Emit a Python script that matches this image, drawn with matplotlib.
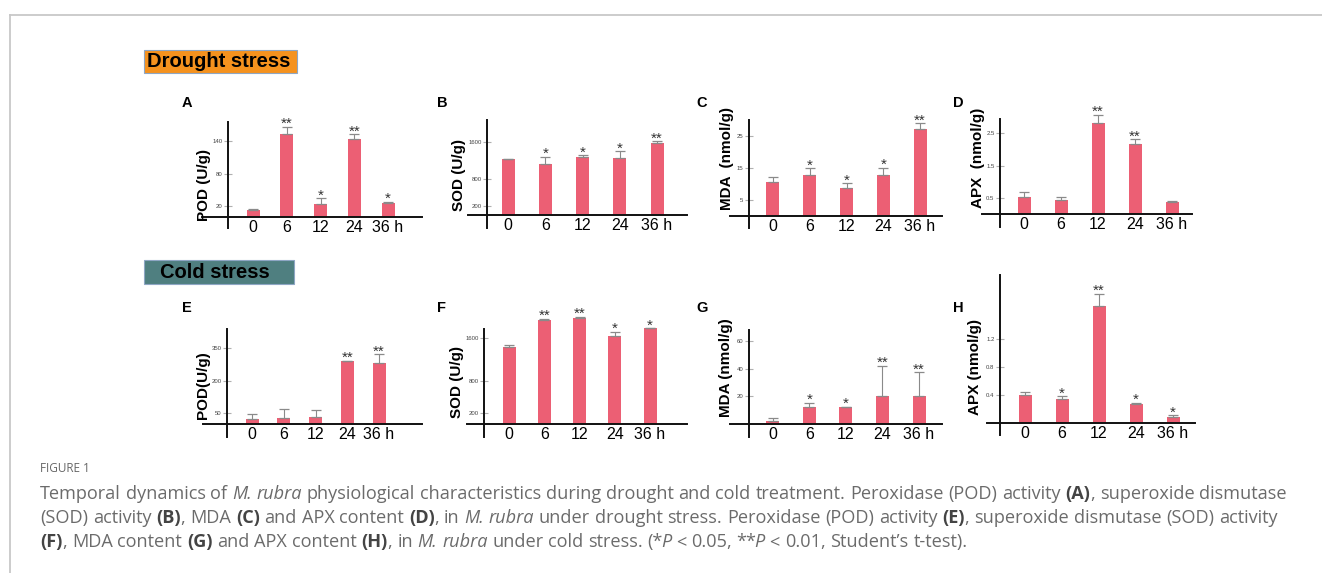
import matplotlib
matplotlib.use('Agg')
import matplotlib.pyplot as plt
from matplotlib.lines import Line2D
from matplotlib.patches import Rectangle

plt.rcParams['font.family'] = ['Liberation Sans', 'DejaVu Sans']

W, H = 1322, 573

times = ['0', '6', '12', '24', '36 h']

# drought stress
pod_d = [13, 153, 24, 144, 25]
pod_d_err = [1, 13, 11, 9, 3]
pod_d_sig = ['', '**', '*', '**', '*']

sod_d = [1230, 1110, 1270, 1245, 1570]
sod_d_err = [8, 165, 40, 160, 45]
sod_d_sig = ['', '*', '*', '*', '**']

mda_d = [10.7, 12.8, 8.7, 12.8, 27.1]
mda_d_err = [1.6, 2.1, 1.5, 2.3, 1.9]
mda_d_sig = ['', '*', '*', '*', '**']

apx_d = [0.52, 0.43, 2.83, 2.17, 0.36]
apx_d_err = [0.17, 0.11, 0.24, 0.14, 0.05]
apx_d_sig = ['', '', '**', '**', '']

# cold stress
pod_c = [23, 29, 31, 292, 282]
pod_c_err = [22, 40, 35, 0, 41]
pod_c_sig = ['', '', '', '**', '**']

sod_c = [1440, 1935, 1985, 1647, 1790]
sod_c_err = [25, 30, 20, 75, 0]
sod_c_sig = ['', '**', '**', '*', '*']

mda_c = [2.2, 12.5, 12.5, 20.3, 20.3]
mda_c_err = [2.4, 2.9, 0, 21.9, 17.2]
mda_c_sig = ['', '*', '*', '**', '**']

apx_c = [0.40, 0.35, 1.67, 0.27, 0.09]
apx_c_err = [0.05, 0.03, 0.18, 0.02, 0.02]
apx_c_sig = ['', '*', '**', '*', '*']

bar_color = '#ec5f74'

fig = plt.figure(figsize=(W / 100, H / 100), dpi=100)

# card frame
fig.add_artist(Line2D([9.5 / W, 1], [1 - 14.5 / H] * 2, transform=fig.transFigure, color='#c8c8c8', lw=1.3))
fig.add_artist(Line2D([9.5 / W] * 2, [0, 1 - 14.5 / H], transform=fig.transFigure, color='#c8c8c8', lw=1.3))

# section boxes
for (x0, y0, x1, y1, fc, tx, label) in [(144, 50, 297, 73, '#f5921e', 147, 'Drought stress'),
                                        (144, 260, 294, 284, '#4f7f80', 160, 'Cold stress')]:
    fig.add_artist(Rectangle((x0 / W, 1 - y1 / H), (x1 - x0) / W, (y1 - y0) / H, transform=fig.transFigure,
                             facecolor=fc, edgecolor='#8ea6c4', lw=0.8))
    fig.text(tx / W, 1 - (y0 + y1) / 2 / H, label, fontsize=14.5, fontweight='bold', va='center', ha='left')


def panel(lay, vals, errs, sig, ticks, tick_fmt, ylabel, letter):
    xl, xr, yt, yb, axx, base, c0, c4, s, lx, ly, yx, yy = lay
    k = (c4 - c0) / 4
    ax = fig.add_axes([xl / W, 1 - yb / H, (xr - xl) / W, (yb - yt) / H])
    ax.set_facecolor('none')
    idx = range(len(vals))
    ax.bar(idx, vals, width=13 / k, color=bar_color, zorder=2, clip_on=False)
    eb = ax.errorbar(idx, vals, yerr=[[0] * len(errs), errs], fmt='none', ecolor='#8a8a8a',
                     elinewidth=0.8, capsize=3.5, capthick=0.9, zorder=3)
    for art in eb.lines[1] + eb.lines[2]:
        art.set_clip_on(False)
    for i, (v, e, st) in enumerate(zip(vals, errs, sig)):
        if st:
            ax.annotate(st, xy=(i, v + e), xytext=(0, -1), textcoords='offset points',
                        ha='center', va='baseline', fontsize=11, color='#333333', annotation_clip=False)
    ax.set_xlim((xl - c0) / k, (xr - c0) / k)
    ax.set_ylim(-(yb - base) / s, (base - yt) / s)
    for side in ['top', 'right']:
        ax.spines[side].set_visible(False)
    ax.spines['left'].set_position(('data', (axx - c0) / k))
    ax.spines['bottom'].set_position(('data', 0))
    for side in ['left', 'bottom']:
        ax.spines[side].set_linewidth(1.4)
        ax.spines[side].set_color('#111111')
    ax.set_xticks(list(idx))
    ax.set_xticklabels(times)
    ax.tick_params(axis='x', length=0, pad=2, labelsize=11.5)
    ax.set_yticks(ticks)
    ax.set_yticklabels([tick_fmt.format(t) for t in ticks])
    ax.tick_params(axis='y', direction='inout', length=6, width=0.8, color='#b0b0b0',
                   labelsize=4.3, labelcolor='#444444', pad=1)
    fig.text(lx / W, 1 - ly / H, letter, fontsize=10.5, fontweight='bold', ha='center', va='center')
    fig.text(yx / W, 1 - yy / H, ylabel, fontsize=11, fontweight='bold', rotation=90, ha='center', va='center')
    return ax


# xl, xr, yt, yb, y-axis x, baseline, first bar, last bar, px per unit, letter x/y, ylabel x/y
layout = {
    'A': (202, 422, 122, 228, 228, 217, 253, 388, 0.543, 187, 103, 204, 185),
    'B': (468, 687, 120, 228, 487, 215, 508, 657, 0.0456, 442, 103, 459, 175),
    'C': (730, 942, 120, 228, 749, 216, 773, 920, 3.2, 702, 103, 727, 158),
    'D': (982, 1192, 119, 227, 1000, 214, 1024, 1172, 32.3, 958, 103, 978, 158),
    'E': (203, 422, 329, 437, 227, 424, 252, 379, 0.217, 187, 308, 203, 385),
    'F': (467, 687, 329, 437, 484, 424, 509, 650, 0.0536, 442, 308, 457, 382),
    'G': (730, 942, 330, 437, 749, 424, 773, 919, 1.38, 702, 308, 726, 368),
    'H': (987, 1195, 275, 435, 1000, 423, 1025, 1173, 70, 958, 308, 975, 367),
}

panel(layout['A'], pod_d, pod_d_err, pod_d_sig, [20, 80, 140], '{:g}', 'POD (U/g)', 'A')
panel(layout['B'], sod_d, sod_d_err, sod_d_sig, [200, 800, 1600], '{:g}', 'SOD (U/g)', 'B')
panel(layout['C'], mda_d, mda_d_err, mda_d_sig, [5, 15, 25], '{:g}', 'MDA  (nmol/g)', 'C')
panel(layout['D'], apx_d, apx_d_err, apx_d_sig, [0.5, 1.5, 2.5], '{:.1f}', 'APX  (nmol/g)', 'D')
panel(layout['E'], pod_c, pod_c_err, pod_c_sig, [50, 200, 350], '{:g}', 'POD(U/g)', 'E')
panel(layout['F'], sod_c, sod_c_err, sod_c_sig, [200, 800, 1600], '{:g}', 'SOD (U/g)', 'F')
panel(layout['G'], mda_c, mda_c_err, mda_c_sig, [20, 40, 60], '{:g}', 'MDA (nmol/g)', 'G')
panel(layout['H'], apx_c, apx_c_err, apx_c_sig, [0.4, 0.8, 1.2], '{:.1f}', 'APX (nmol/g)', 'H')

# caption
cap_font = ['Open Sans', 'DejaVu Sans']
styles = {'n': dict(color='#6b6b6b'),
          'i': dict(color='#6b6b6b', style='italic'),
          'b': dict(color='#444444', fontweight='bold')}

caption = [
    [('Temporal dynamics of ', 'n'), ('M. rubra', 'i'),
     (' physiological characteristics during drought and cold treatment. Peroxidase (POD) activity ', 'n'),
     ('(A)', 'b'), (', superoxide dismutase', 'n')],
    [('(SOD) activity ', 'n'), ('(B)', 'b'), (', MDA ', 'n'), ('(C)', 'b'), (' and APX content ', 'n'),
     ('(D)', 'b'), (', in ', 'n'), ('M. rubra', 'i'),
     (' under drought stress. Peroxidase (POD) activity ', 'n'), ('(E)', 'b'),
     (', superoxide dismutase (SOD) activity', 'n')],
    [('(F)', 'b'), (', MDA content ', 'n'), ('(G)', 'b'), (' and APX content ', 'n'), ('(H)', 'b'),
     (', in ', 'n'), ('M. rubra', 'i'), (' under cold stress. (*', 'n'), ('P', 'i'), (' < 0.05, **', 'n'),
     ('P', 'i'), (' < 0.01, Student\u2019s t-test).', 'n')],
]

renderer = fig.canvas.get_renderer()


def tokens_of(runs):
    tokens = [[]]
    for txt, st in runs:
        for ch in txt:
            if ch == ' ':
                tokens.append([])
            elif tokens[-1] and tokens[-1][-1][1] == st:
                tokens[-1][-1] = (tokens[-1][-1][0] + ch, st)
            else:
                tokens[-1].append((ch, st))
    return tokens


def rich_line(x, y, runs, size, draw=True):
    x_start = x
    sp_a = fig.text(0, 0, 'a a', fontsize=size, family=cap_font)
    sp_b = fig.text(0, 0, 'aa', fontsize=size, family=cap_font)
    space = sp_a.get_window_extent(renderer).width - sp_b.get_window_extent(renderer).width
    sp_a.remove()
    sp_b.remove()
    for tok in tokens_of(runs):
        prev = None
        for seg, st in tok:
            if prev == 'n' and st == 'i':
                x -= 2  # italic glyph sits a bit right of the upright one
            t = fig.text(x / W, 1 - y / H, seg, fontsize=size, family=cap_font,
                         ha='left', va='center', **styles[st])
            x += t.get_window_extent(renderer).width
            if not draw:
                t.remove()
            prev = st
        x += space
    return x - space - x_start


# fit the first caption line to the width it has in the figure
base_size = 11.5
w1 = rich_line(40, 494, caption[0], base_size, draw=False)
cap_size = base_size * 1255 / w1

fig.text(40 / W, 1 - 469 / H, 'FIGURE 1', fontsize=8.5, family=cap_font, color='#666666', va='center')
for n, runs in enumerate(caption):
    rich_line(40, 494 + 24 * n, runs, cap_size)

fig.savefig('out.png', dpi=100)
